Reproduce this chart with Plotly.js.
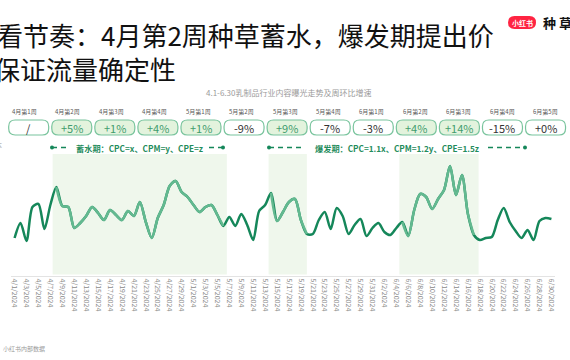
<!DOCTYPE html>
<html>
<head>
<meta charset="utf-8">
<script src="https://cdn.plot.ly/plotly-3.0.1.min.js"></script>
<style>
html,body{margin:0;padding:0;background:#fff;}
#chart{width:570px;height:360px;}
</style>
</head>
<body>
<div id="chart"></div>
<script>
// ---------------- DATA ----------------
const startDate = '2024-04-01';
const dayCount = 91; // 4/1 .. 6/30
const exposure = [38,53,35,69,72,47,71,89,70,69,48,53,60,69,63,56,66,61,56,65,60,74,54,38,58,71,90,95,84,79,71,64,69,71,61,50,59,50,62,51,36,65,71,83,55,64,74,77,56,42,42,56,64,47,68,60,42,51,57,40,48,53,44,41,48,54,40,66,82,79,67,77,86,110,81,101,62,41,36,38,39,56,68,54,45,38,46,36,55,58,57];
const weekLabels = ['4月第1周','4月第2周','4月第3周','4月第4周','5月第1周','5月第2周','5月第3周','5月第4周','6月第1周','6月第2周','6月第3周','6月第4周','6月第5周'];
const weekGrowth = ['/','+5%','+1%','+4%','+1%','-9%','+9%','-7%','-3%','+4%','+14%','-15%','+0%'];
// shaded periods (index ranges of the light segments, and shade extents)
const lightRanges = [[7,35],[43,49],[65,77]];
const shadeStart = ['2024-04-07 09:00','2024-05-13 14:00','2024-06-04 12:00'];
const shadeEnd   = ['2024-05-06 14:00','2024-05-20 00:00','2024-06-17 19:00'];
const periodTexts = ['蓄水期：CPC=x、CPM=y、CPE=z','爆发期：CPC=1.1x、CPM=1.2y、CPE=1.5z'];
const titleLine1 = '看节奏：4月第2周种草蓄水，爆发期提出价';
const titleLine2 = '保证流量确定性';
const subTitle = '4.1-6.30乳制品行业内容曝光走势及周环比增速';
const sourceText = '数据来源：小红书内部数据';

// dates (category axis)
const dates = [];
(function(){
  const d0 = new Date(startDate + 'T00:00:00Z');
  for (let i = 0; i < dayCount; i++) {
    const d = new Date(d0.getTime() + i*86400000);
    dates.push(d.toISOString().slice(0,10));
  }
})();

// ---------------- LAYOUT HELPERS ----------------
const W = 570, H = 360;
const L = 11, R = 555, T = 154, B = 276;
const px = x => (x - L) / (R - L);
const py = y => (B - y) / (B - T);
const FONT = '"Noto Sans CJK SC", "Noto Sans", sans-serif';
const DARK = '#15875a';
const LIGHT = '#63b990';

function roundRect(x0, y0, x1, y1, r) {
  const rx = r / (R - L), ry = r / (B - T);
  const a = px(x0), b = px(x1), top = py(y0), bot = py(y1);
  return `M${a+rx},${top} L${b-rx},${top} Q${b},${top} ${b},${top-ry} L${b},${bot+ry} Q${b},${bot} ${b-rx},${bot} L${a+rx},${bot} Q${a},${bot} ${a},${bot+ry} L${a},${top-ry} Q${a},${top} ${a+rx},${top} Z`;
}

// ---------------- TRACES ----------------
const traces = [{
  x: dates, y: exposure, type: 'scatter', mode: 'lines',
  line: {color: DARK, width: 2.5, shape: 'spline', smoothing: 0.8},
  hoverinfo: 'skip', showlegend: false
}];
lightRanges.forEach(([a, b]) => {
  traces.push({
    x: dates.slice(a, b + 1), y: exposure.slice(a, b + 1), type: 'scatter', mode: 'lines',
    line: {color: LIGHT, width: 2.5, shape: 'spline', smoothing: 0.8},
    hoverinfo: 'skip', showlegend: false
  });
});

// ---------------- SHAPES ----------------
const shapes = [];
shadeStart.forEach((s, i) => {
  shapes.push({type: 'rect', xref: 'x', yref: 'paper', x0: s, x1: shadeEnd[i], y0: py(274.5), y1: py(154),
    fillcolor: '#eff7ec', line: {width: 0}, layer: 'below'});
});
// pills
weekGrowth.forEach((g, i) => {
  const cx = 28.7 + 43.07 * i;
  const pos = g.startsWith('+') && g !== '+0%';
  shapes.push({type: 'path', xref: 'paper', yref: 'paper', path: roundRect(cx - 20, 120, cx + 20, 135, 6.5),
    fillcolor: pos ? '#e3f3dd' : '#ffffff', line: {color: '#79c49d', width: 1.2}});
});
// period dashed arrows
const dashSegs = [[52, 67, 'left'], [209, 223, 'right'], [269, 303, 'left'], [488, 525, 'right']];
dashSegs.forEach(([a, b, side]) => {
  shapes.push({type: 'line', xref: 'paper', yref: 'paper', x0: px(a), x1: px(b), y0: py(147.5), y1: py(147.5),
    line: {color: DARK, width: 1.6, dash: '5px,4px'}});
  const cx = side === 'left' ? a : b;
  shapes.push({type: 'circle', xref: 'paper', yref: 'paper', x0: px(cx - 2), x1: px(cx + 2), y0: py(149.5), y1: py(145.5),
    fillcolor: DARK, line: {width: 0}});
});
// logo pill
shapes.push({type: 'path', xref: 'paper', yref: 'paper', path: roundRect(508, 16, 536, 29, 6.5),
  fillcolor: '#ff2442', line: {width: 0}});

// ---------------- ANNOTATIONS ----------------
const ann = [];
const A = (o) => ann.push(Object.assign({xref: 'paper', yref: 'paper', showarrow: false}, o));
A({x: px(-5), y: py(35), xanchor: 'left', yanchor: 'middle', text: titleLine1, font: {family: FONT, size: 26, color: '#111'}});
A({x: px(-8), y: py(68), xanchor: 'left', yanchor: 'middle', text: titleLine2, font: {family: FONT, size: 26, color: '#111'}});
A({x: px(522), y: py(22.5), xanchor: 'center', yanchor: 'middle', text: '<b>小红书</b>', font: {family: FONT, size: 7, color: '#fff'}});
A({x: px(541), y: py(22), xanchor: 'left', yanchor: 'middle', text: '<b>种 草</b>', font: {family: FONT, size: 13, color: '#111'}});
A({x: px(288), y: py(92), xanchor: 'center', yanchor: 'middle', text: subTitle, font: {family: FONT, size: 8, color: '#9a9a9a'}});
weekLabels.forEach((w, i) => {
  A({x: px(24.3 + 43.45 * i), y: py(111), xanchor: 'center', yanchor: 'middle', text: w, font: {family: FONT, size: 6, color: '#555'}});
});
weekGrowth.forEach((g, i) => {
  const cx = 28.7 + 43.07 * i;
  const pos = g.startsWith('+') && g !== '+0%';
  A({x: px(cx), y: py(127.5), xanchor: 'center', yanchor: 'middle', text: g, font: {family: FONT, size: 11, color: pos ? '#3f9c6d' : '#333'}});
});
A({x: px(139), y: py(147.5), xanchor: 'center', yanchor: 'middle', text: '<b>' + periodTexts[0] + '</b>', font: {family: FONT, size: 8.2, color: '#1f8c5c'}});
A({x: px(396.5), y: py(147.5), xanchor: 'center', yanchor: 'middle', text: '<b>' + periodTexts[1] + '</b>', font: {family: FONT, size: 8.2, color: '#1f8c5c'}});
A({x: px(3), y: py(131), xanchor: 'right', yanchor: 'middle', text: '环比：', font: {family: FONT, size: 7, color: '#999'}});
A({x: px(4), y: py(145), xanchor: 'right', yanchor: 'middle', text: '成本', font: {family: FONT, size: 7, color: '#999'}});
A({x: px(47), y: py(348), xanchor: 'right', yanchor: 'middle', text: sourceText, font: {family: FONT, size: 6, color: '#9a9a9a'}});

// ---------------- LAYOUT ----------------
const layout = {
  width: W, height: H,
  margin: {l: L, r: W - R, t: T, b: H - B, pad: 0},
  paper_bgcolor: '#fff', plot_bgcolor: '#fff',
  showlegend: false,
  font: {family: FONT},
  xaxis: {
    type: 'date',
    range: ['2024-03-31 09:36', '2024-06-30 14:24'],
    tick0: startDate, dtick: 2 * 86400000,
    tickformat: '%-m/%-d/%Y', tickangle: 90,
    tickfont: {family: FONT, size: 7, color: '#8a8a8a'},
    showgrid: false, zeroline: false,
    showline: true, linecolor: '#e3e3e3', linewidth: 1.2,
    ticks: '', fixedrange: true
  },
  yaxis: {visible: false, range: [0, 122], fixedrange: true},
  shapes: shapes,
  annotations: ann
};

Plotly.newPlot('chart', traces, layout, {staticPlot: true, displayModeBar: false});
</script>
</body>
</html>
